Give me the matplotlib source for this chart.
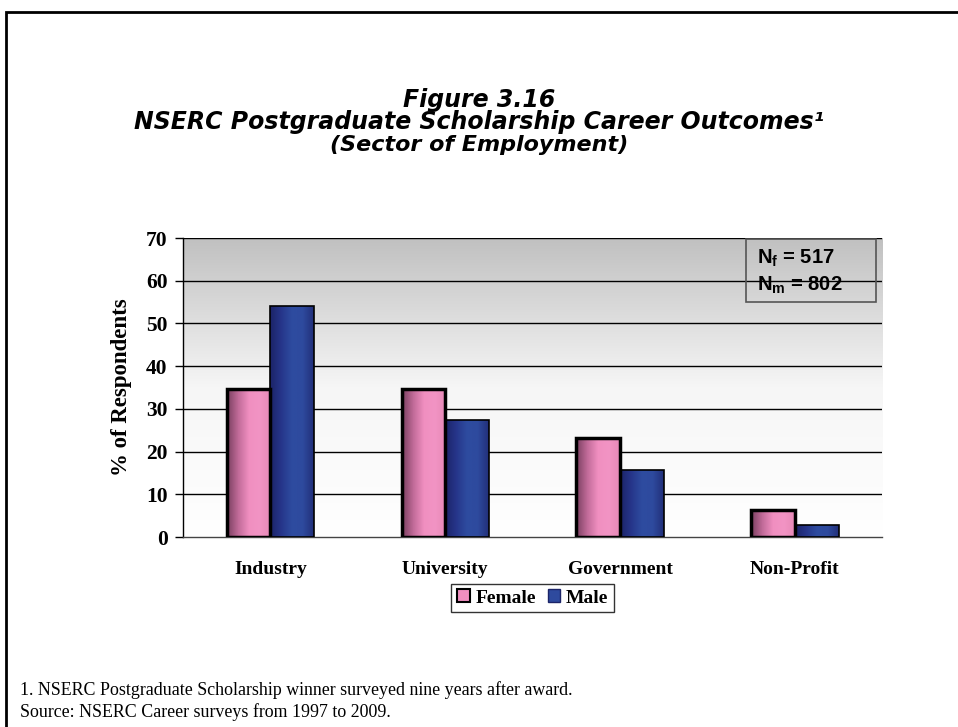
import numpy as np
import matplotlib.pyplot as plt
from matplotlib.patches import Rectangle, Patch
from matplotlib.colors import LinearSegmentedColormap

categories = ["Industry", "University", "Government", "Non-Profit"]
female = [34.6, 34.6, 23.3, 6.3]
male = [54.0, 27.3, 15.6, 2.9]
yticks = [0, 10, 20, 30, 40, 50, 60, 70]

serif = "Liberation Serif"
sans = "Liberation Sans"
heavy = "DejaVu Sans"

pink_cmap = LinearSegmentedColormap.from_list(
    "pink", ["#7a4060", "#c06a98", "#f08fc0", "#f294c4", "#e88ab8"])
blue_cmap = LinearSegmentedColormap.from_list(
    "blue", ["#1c2468", "#26358a", "#2e4ca0", "#2e4a9e", "#22307a"])

fig = plt.figure(figsize=(9.58, 7.27), dpi=100)
fig.patch.set_facecolor("white")

# outer frame (runs off the right and bottom edges)
fig.patches.append(Rectangle((6 / 958, -0.1), 1.2, (727 - 12) / 727 + 0.1,
                             transform=fig.transFigure, fill=False,
                             edgecolor="black", lw=2))

ax = fig.add_axes([0.191, 0.2613, 0.730, 0.4113])

# gray-to-white background
bg = np.linspace(1, 0, 256).reshape(-1, 1)
bg_cmap = LinearSegmentedColormap.from_list("bg", ["#ffffff", "#f6f6f6", "#c0c0c0"])
ax.imshow(bg, cmap=bg_cmap, extent=[0, 1, 0, 1], transform=ax.transAxes,
          aspect="auto", zorder=0, origin="upper", vmin=0, vmax=1)

x = np.arange(len(categories))
w = 0.25
grad = np.linspace(0, 1, 64).reshape(1, -1)


def gradient_bars(xs, vals, cmap, lw):
    bars = ax.bar(xs, vals, w, facecolor="none", edgecolor="black", lw=lw, zorder=4)
    for b in bars:
        x0, y0 = b.get_x(), b.get_y()
        im = ax.imshow(grad, cmap=cmap, extent=[x0, x0 + b.get_width(), y0, y0 + b.get_height()],
                       aspect="auto", zorder=3, origin="lower")
        im.set_clip_path(b)
    return bars


gradient_bars(x - w / 2, female, pink_cmap, 2.5)
gradient_bars(x + w / 2, male, blue_cmap, 1.2)

ax.set_xlim(-0.5, 3.5)
ax.set_ylim(0, 70)
ax.set_yticks(yticks)
ax.set_yticklabels([str(t) for t in yticks], fontfamily=serif, fontweight="bold", fontsize=15.5)
ax.set_xticks(x)
ax.set_xticklabels(categories, fontfamily=serif, fontweight="bold", fontsize=14)
ax.tick_params(axis="x", length=0, pad=17)
ax.tick_params(axis="y", length=6, width=1, pad=5)
for t in yticks[1:]:
    ax.axhline(t, color="black", lw=1, zorder=2)
for s in ["top", "right"]:
    ax.spines[s].set_visible(False)
ax.spines["left"].set_linewidth(1)
ax.spines["bottom"].set_linewidth(1)
ax.spines["bottom"].set_color("#444444")

ax.set_ylabel("% of Respondents", fontfamily=serif, fontweight="bold", fontsize=16.5, labelpad=10)

# sample size note
ax.add_patch(Rectangle((0.805, 0.786), 0.186, 0.211, transform=ax.transAxes,
                       facecolor="none", edgecolor="#555555", lw=1.2, zorder=6))
ax.text(0.821, 0.933, r"N$_\mathregular{f}$ = 517", transform=ax.transAxes,
        fontfamily=sans, fontweight="bold", fontsize=14.5, va="center", ha="left", zorder=6)
ax.text(0.821, 0.843, r"N$_\mathregular{m}$ = 802", transform=ax.transAxes,
        fontfamily=sans, fontweight="bold", fontsize=14.5, va="center", ha="left", zorder=6)

# title
fig.text(0.5, 1 - 100 / 727, "Figure 3.16", ha="center", va="center", fontfamily=heavy,
         fontweight="bold", style="italic", fontsize=17)
fig.text(0.5, 1 - 122 / 727, "NSERC Postgraduate Scholarship Career Outcomes\u00b9", ha="center",
         va="center", fontfamily=heavy, fontweight="bold", style="italic", fontsize=17)
fig.text(0.5, 1 - 145 / 727, "(Sector of Employment)", ha="center", va="center",
         fontfamily=heavy, fontweight="bold", style="italic", fontsize=16)

# legend
handles = [Patch(facecolor="#f08fc0", edgecolor="black", lw=1.5, label="Female"),
           Patch(facecolor="#2e4a9e", edgecolor="#1c2468", lw=1, label="Male")]
fig.legend(handles=handles, loc="center", bbox_to_anchor=(0.556, 1 - 598 / 727), ncol=2,
           prop={"family": serif, "weight": "bold", "size": 14}, frameon=True,
           fancybox=False, edgecolor="black", handlelength=0.65, handleheight=0.65,
           handletextpad=0.3, columnspacing=0.6, borderpad=0.3)

# footnotes
fig.text(20 / 958, 1 - 690 / 727, "1. NSERC Postgraduate Scholarship winner surveyed nine years after award.",
         fontfamily=serif, fontsize=12.9, va="center")
fig.text(20 / 958, 1 - 712 / 727, "Source: NSERC Career surveys from 1997 to 2009.",
         fontfamily=serif, fontsize=12.9, va="center")

fig.savefig("out.png", dpi=100)
